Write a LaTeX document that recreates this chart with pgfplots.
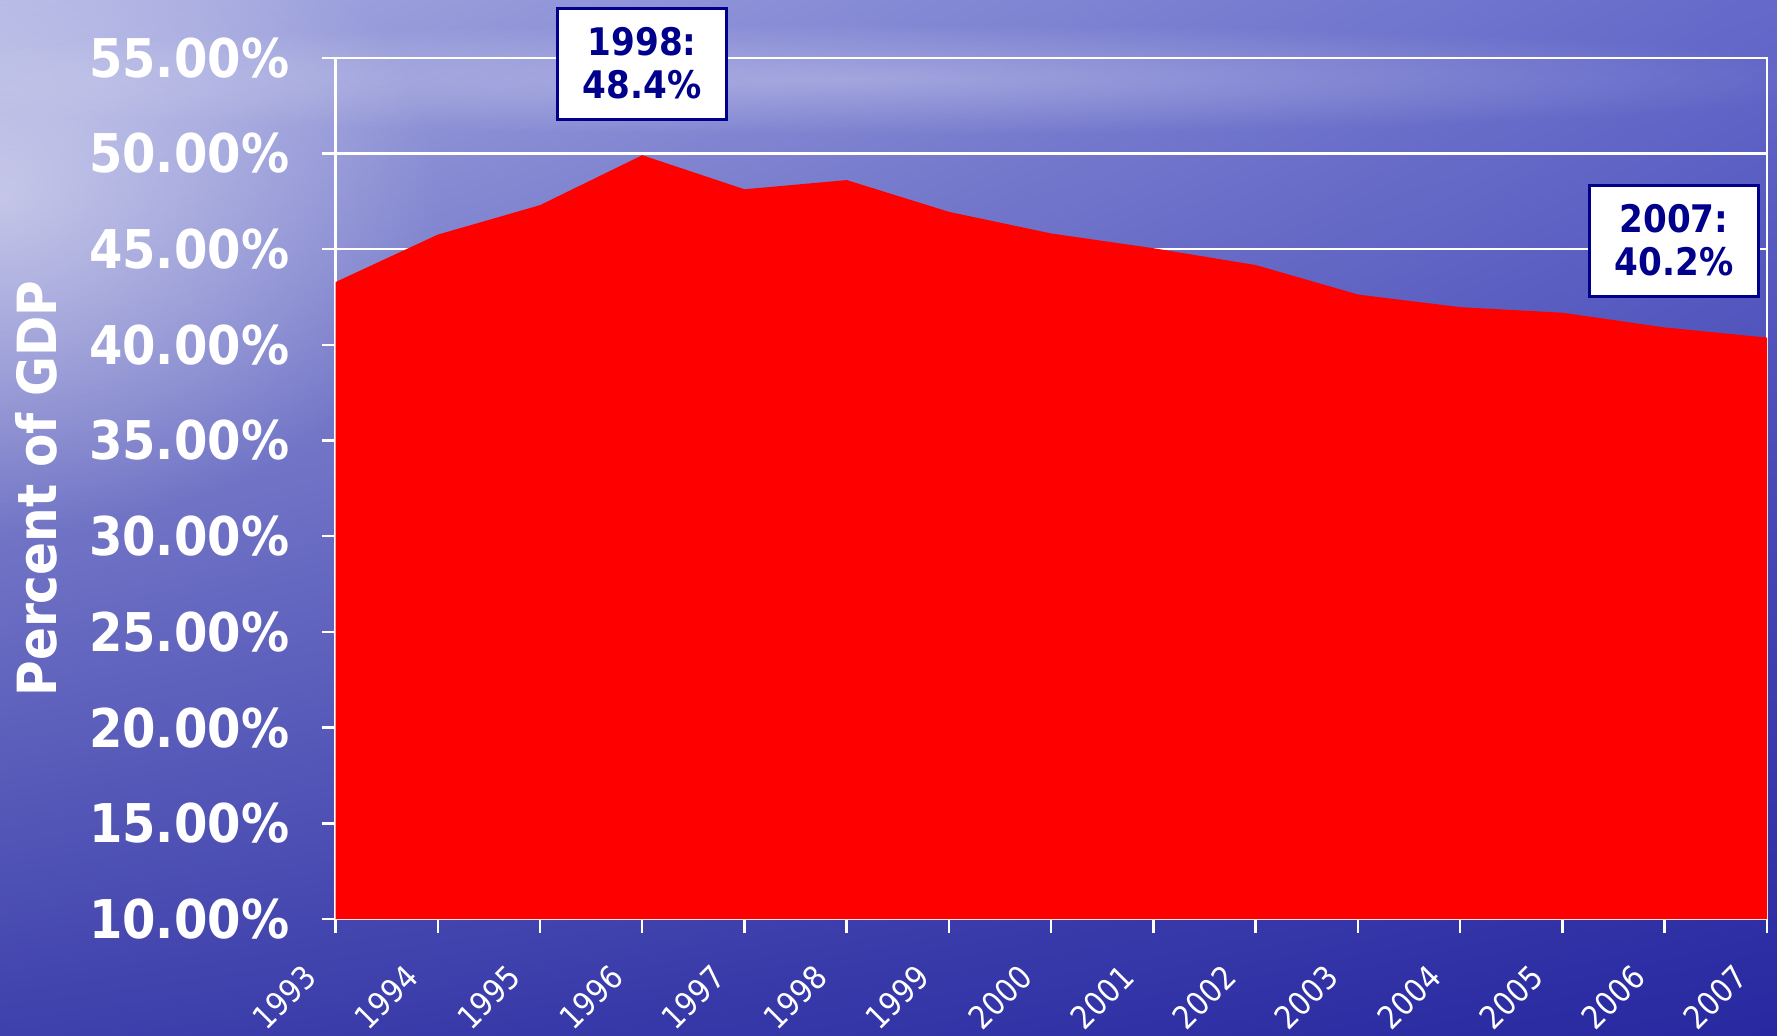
\documentclass[border=0pt]{standalone}
\usepackage{fontspec}
\setmainfont{DejaVu Sans Condensed}[BoldFont={DejaVu Sans Condensed Bold}]
\usepackage{pgfplots}
\pgfplotsset{compat=1.18}
\usetikzlibrary{fadings,shadings}
\definecolor{navy}{RGB}{0,0,140}
\definecolor{bgul}{RGB}{168,172,224}
\definecolor{bgur}{RGB}{100,105,202}
\definecolor{bgll}{RGB}{62,64,172}
\definecolor{bglr}{RGB}{40,40,160}
\tikzfading[name=glow, inner color=transparent!55, outer color=transparent!100]
\begin{document}
\begin{tikzpicture}
\useasboundingbox (0,0) rectangle (888.5pt,517.5pt);
\shade[upper left=bgul, upper right=bgur, lower left=bgll, lower right=bglr] (0,0) rectangle (888.5pt,517.5pt);
\fill[white, path fading=glow] (0pt,420pt) ellipse (220pt and 170pt);
\fill[white, path fading=glow, opacity=0.6] (420pt,478pt) ellipse (520pt and 28pt);
\begin{axis}[
  at={(167.75pt,58pt)}, anchor=south west, scale only axis,
  width=715.75pt, height=430.6pt,
  xmin=1993, xmax=2007, ymin=10, ymax=55,
  xtick={1993,...,2007}, ytick={10,15,...,55},
  axis line style={white, line width=1.2pt},
  tick style={white, line width=1.2pt},
  tick align=outside, major tick length=7pt,
  xtick pos=left, ytick pos=left,
  ymajorgrids, grid style={white, line width=1.2pt},
  /pgf/number format/assume math mode=true,
  x tick label style={/pgf/number format/1000 sep={}, rotate=45, anchor=north east,
     font=\fontsize{16}{16}\selectfont, text=white, inner sep=0pt,
     xshift=-22.4pt, yshift=1.6pt},
  yticklabel={\pgfmathprintnumber[fixed,fixed zerofill,precision=2]{\tick}\%},
  y tick label style={font=\bfseries\fontsize{26.7}{28}\selectfont, text=white, inner sep=0pt,
     xshift=-16pt},
  ylabel={Percent of GDP},
  ylabel style={font=\bfseries\fontsize{27}{28}\selectfont, text=white,
     at={(axis description cs:-0.209,0.5)}, anchor=center},
  clip=false,
]
\addplot[fill=red, draw=none] coordinates {
 (1993,10) (1993,43.28) (1994,45.76) (1995,47.30) (1996,49.91) (1997,48.13)
 (1998,48.61) (1999,46.95) (2000,45.82) (2001,45.05) (2002,44.17)
 (2003,42.63) (2004,41.97) (2005,41.68) (2006,40.91) (2007,40.38) (2007,10)
};
\node[draw=navy, line width=1.5pt, fill=white, text=navy,
  font=\bfseries\fontsize{19}{21.5}\selectfont, align=center,
  minimum width=84.5pt, minimum height=55.5pt, inner sep=0pt]
  at (axis cs:1996,54.7) {1998:\\48.4\%};
\node[draw=navy, line width=1.5pt, fill=white, text=navy,
  font=\bfseries\fontsize{19}{21.5}\selectfont, align=center,
  minimum width=84.5pt, minimum height=55.5pt, inner sep=0pt]
  at (axis cs:2006.09,45.45) {2007:\\40.2\%};
\end{axis}
\end{tikzpicture}
\end{document}
